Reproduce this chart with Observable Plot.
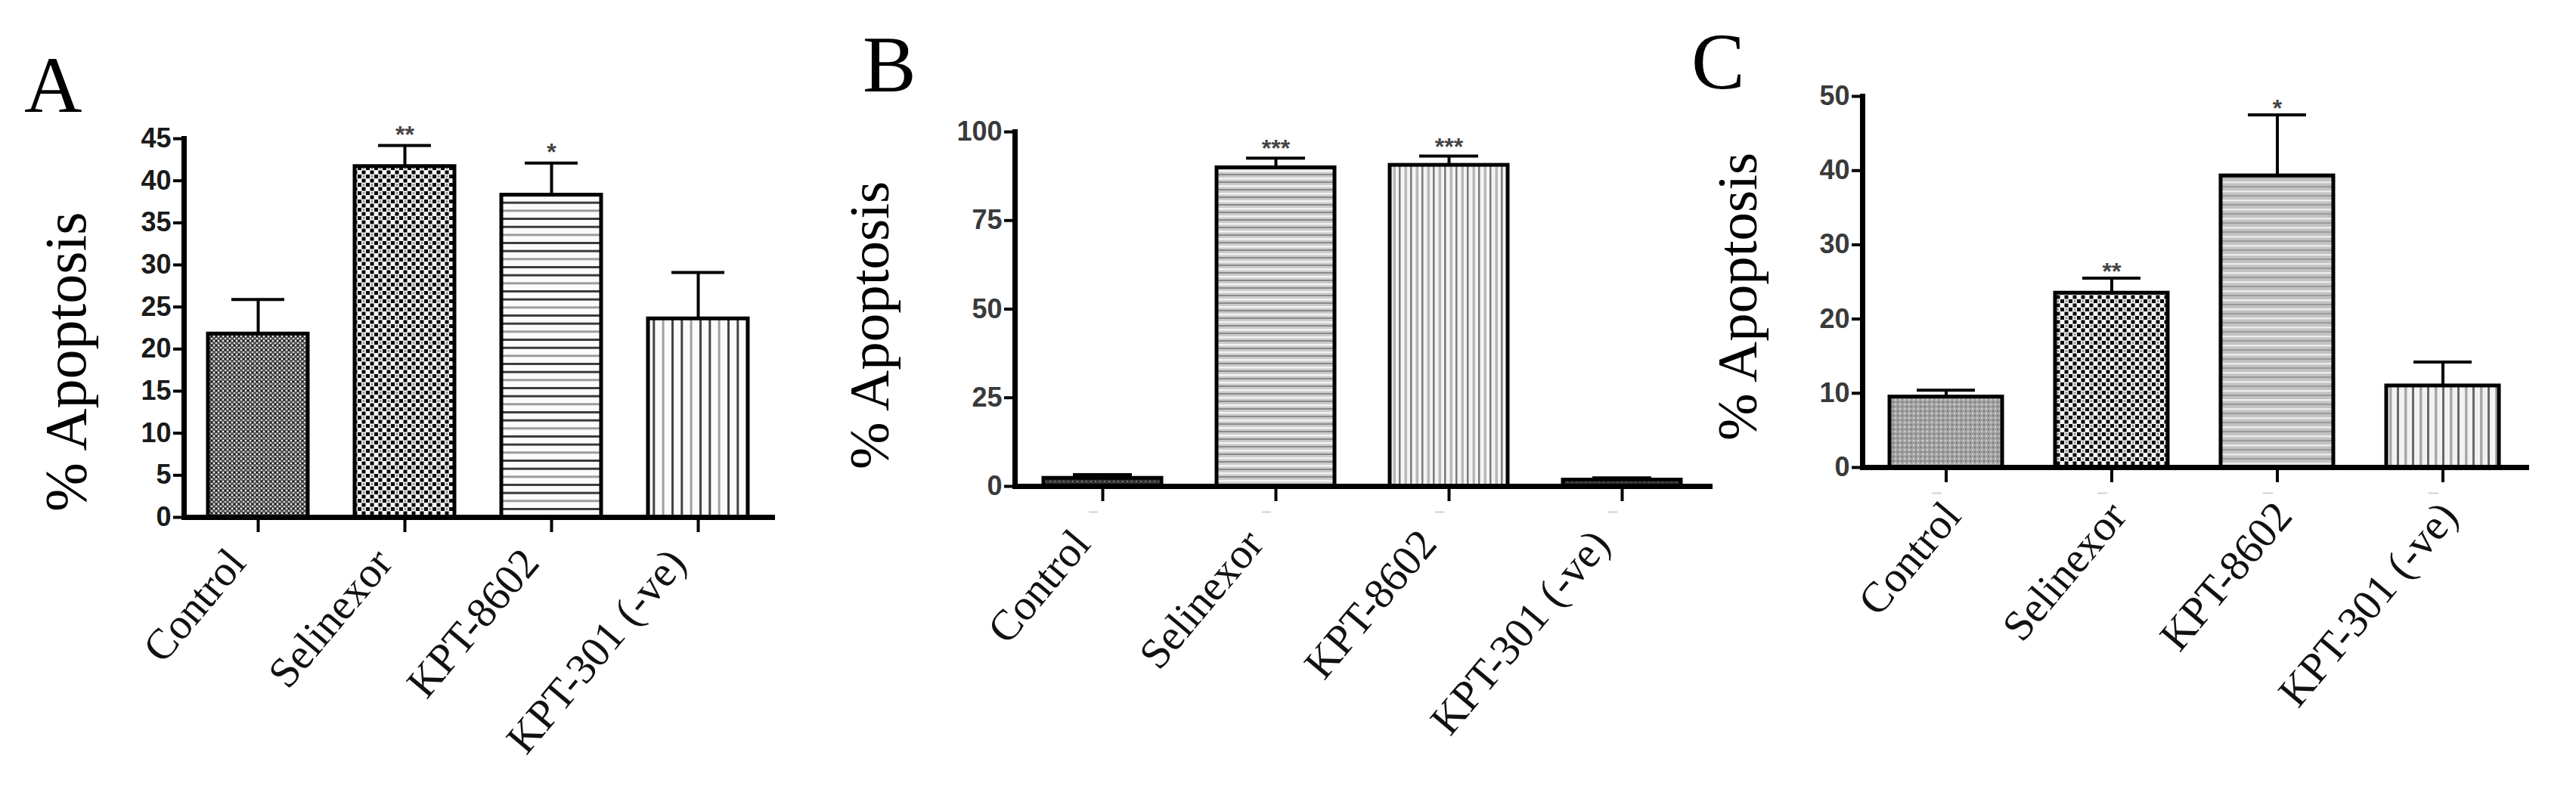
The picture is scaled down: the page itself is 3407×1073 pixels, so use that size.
<!DOCTYPE html>
<html>
<head>
<meta charset="utf-8">
<script src="https://cdn.jsdelivr.net/npm/d3@7"></script>
<script src="https://cdn.jsdelivr.net/npm/@observablehq/plot@0.6"></script>
<style>
  html, body { margin: 0; padding: 0; background: #fff; }
  #fig { position: relative; width: 3407px; height: 1073px; overflow: hidden; background: #fff; }
  .panel { position: absolute; top: 0; }
  .panel svg { max-width: none; display: block; }
  .letter { position: absolute; font-family: "Liberation Serif", "Times New Roman", serif; font-size: 106px; line-height: 1; color: #000; }
  .ylab { position: absolute; font-family: "Liberation Serif", "Times New Roman", serif; white-space: nowrap; line-height: 1; transform-origin: 0 0; transform: rotate(-90deg); color: #000; }
</style>
</head>
<body>
<div id="fig"></div>
<script>
// ---------- data ----------
const categories = ["Control", "Selinexor", "KPT-8602", "KPT-301 (-ve)"];

const apoptosisA = [21.8, 41.7, 38.3, 23.6];
const errorA     = [4.1, 2.5, 3.8, 5.5];
const starsA     = ["", "**", "*", ""];
const ticksA     = [0, 5, 10, 15, 20, 25, 30, 35, 40, 45];

const apoptosisB = [2.3, 89.9, 90.6, 1.8];
const errorB     = [1.0, 2.7, 2.6, 0.6];
const starsB     = ["", "***", "***", ""];
const ticksB     = [0, 25, 50, 75, 100];

const apoptosisC = [9.5, 23.5, 39.3, 11.0];
const errorC     = [0.9, 2.0, 8.2, 3.2];
const starsC     = ["", "**", "*", ""];
const ticksC     = [0, 10, 20, 30, 40, 50];

const yLabel = "% Apoptosis";

// ---------- patterns (style) ----------
function patternDefs(p) {
  return `
  <pattern id="${p}-fineDark" width="6" height="6" patternUnits="userSpaceOnUse">
    <rect width="6" height="6" fill="#5c5c5c"/>
    <rect x="0" y="0" width="2" height="2" fill="#f2f2f2"/>
    <rect x="3" y="3" width="2" height="2" fill="#d8d8d8"/>
    <rect x="3" y="0" width="2" height="2" fill="#1a1a1a"/>
  </pattern>
  <pattern id="${p}-fineVeryDark" width="6" height="6" patternUnits="userSpaceOnUse">
    <rect width="6" height="6" fill="#333"/>
    <rect x="0" y="0" width="2" height="2" fill="#777"/>
  </pattern>
  <pattern id="${p}-fineGray" width="6" height="6" patternUnits="userSpaceOnUse">
    <rect width="6" height="6" fill="#a2a2a2"/>
    <rect x="0" y="0" width="2" height="2" fill="#d6d6d6"/>
    <rect x="3" y="3" width="2" height="2" fill="#7a7a7a"/>
  </pattern>
  <pattern id="${p}-coarse" width="11" height="11" patternUnits="userSpaceOnUse">
    <rect width="11" height="11" fill="#f6f6f6"/>
    <rect x="0" y="0" width="5" height="5" fill="#0a0a0a"/>
    <rect x="5.5" y="5.5" width="5" height="5" fill="#0a0a0a"/>
    <rect x="6.5" y="1" width="3" height="3" fill="#9a9a9a"/>
  </pattern>
  <pattern id="${p}-hLines" width="12" height="32" patternUnits="userSpaceOnUse">
    <rect width="12" height="32" fill="#fbfbfb"/>
    <rect y="0" width="12" height="3" fill="#3c3c3c"/>
    <rect y="10.7" width="12" height="3" fill="#3c3c3c"/>
    <rect y="21.3" width="12" height="3" fill="#9c9c9c"/>
  </pattern>
  <pattern id="${p}-vLines" width="37" height="12" patternUnits="userSpaceOnUse">
    <rect width="37" height="12" fill="#fbfbfb"/>
    <rect x="0" width="3" height="12" fill="#454545"/>
    <rect x="12.3" width="3" height="12" fill="#454545"/>
    <rect x="24.6" width="3" height="12" fill="#a0a0a0"/>
  </pattern>
  <pattern id="${p}-hLinesLight" width="12" height="10" patternUnits="userSpaceOnUse">
    <rect width="12" height="10" fill="#cbcbcb"/>
    <rect y="0" width="12" height="2" fill="#8a8a8a"/>
    <rect y="5" width="12" height="2.5" fill="#f2f2f2"/>
  </pattern>
  <pattern id="${p}-vLinesLight" width="15" height="12" patternUnits="userSpaceOnUse">
    <rect width="15" height="12" fill="#f4f4f4"/>
    <rect x="0" width="2.5" height="12" fill="#7a7a7a"/>
    <rect x="7.5" width="3.5" height="12" fill="#b8b8b8"/>
  </pattern>
  <pattern id="${p}-hLinesGray" width="12" height="12" patternUnits="userSpaceOnUse">
    <rect width="12" height="12" fill="#c2c2c2"/>
    <rect y="0" width="12" height="2.5" fill="#eaeaea"/>
    <rect y="6" width="12" height="2" fill="#9a9a9a"/>
  </pattern>
  <pattern id="${p}-vLinesGray" width="20" height="12" patternUnits="userSpaceOnUse">
    <rect width="20" height="12" fill="#f2f2f2"/>
    <rect x="0" width="3" height="12" fill="#6a6a6a"/>
    <rect x="10" width="3.5" height="12" fill="#a8a8a8"/>
  </pattern>`;
}

// ---------- panel builder ----------
function makePanel(cfg) {
  const rows = categories.map((c, i) => ({
    cat: c,
    v: cfg.values[i],
    top: cfg.values[i] + cfg.errors[i],
    star: cfg.stars[i],
    fill: `url(#${cfg.id}-${cfg.patterns[i]})`
  }));
  const marks = [
    Plot.barY(rows, {x: "cat", y: "v", fill: "fill", stroke: "#000", strokeWidth: 5}),
    Plot.ruleX(rows, {x: "cat", y1: "v", y2: "top", stroke: "#000", strokeWidth: 4}),
    Plot.tickY(rows, {x: "cat", y: "top", stroke: "#000", strokeWidth: 4, insetLeft: cfg.capInset, insetRight: cfg.capInset}),
    Plot.text(rows, {x: "cat", y: "top", text: "star", dy: cfg.starDy, fontSize: 32, fontWeight: "bold", fill: "#444", fontFamily: "Liberation Sans, Arial, sans-serif"}),
    Plot.frame({anchor: "left", stroke: "#000", strokeWidth: 7}),
    Plot.frame({anchor: "bottom", stroke: "#000", strokeWidth: 7}),
    Plot.axisY({ticks: cfg.ticks, tickSize: 14, tickPadding: 3, strokeWidth: 4, stroke: "#000",
      fill: cfg.tickColor, fontSize: 36, fontWeight: "bold", fontFamily: "Liberation Sans, Arial, sans-serif",
      label: null, tickFormat: d => String(d)}),
    // x ticks (marks only)
    Plot.axisX({tickSize: 20, strokeWidth: 4, stroke: "#000", fill: "none", label: null}),
    // x tick labels (rotated)
    Plot.axisX({tickSize: 0, tickPadding: cfg.xPad, dx: cfg.xDx, stroke: "none", fill: "#111",
      tickRotate: -50, fontSize: 57, fontFamily: "Liberation Serif, Times New Roman, serif", label: null})
  ];
  if (cfg.dashes) {
    marks.push(Plot.tickY(rows, {x: "cat", y: () => 0, dy: 34, dx: -12, stroke: "#d0d0d0", strokeWidth: 2,
      insetLeft: cfg.dashInset, insetRight: cfg.dashInset}));
  }
  const svg = Plot.plot({
    width: cfg.width,
    height: 1073,
    marginLeft: cfg.marginLeft,
    marginRight: cfg.marginRight,
    marginTop: cfg.marginTop,
    marginBottom: cfg.marginBottom,
    style: {background: "transparent", overflow: "visible"},
    x: {domain: categories, paddingInner: 0.32, paddingOuter: 0.16, align: 0.5},
    y: {domain: [0, cfg.max]},
    color: {type: "identity"},
    marks
  });
  const defs = document.createElementNS("http://www.w3.org/2000/svg", "defs");
  defs.innerHTML = patternDefs(cfg.id);
  svg.insertBefore(defs, svg.firstChild);

  const holder = document.createElement("div");
  holder.className = "panel";
  holder.style.left = cfg.left + "px";
  holder.style.width = cfg.width + "px";
  holder.appendChild(svg);
  document.getElementById("fig").appendChild(holder);

  const letter = document.createElement("div");
  letter.className = "letter";
  letter.textContent = cfg.letter;
  letter.style.left = cfg.letterX + "px";
  letter.style.top = cfg.letterY + "px";
  document.getElementById("fig").appendChild(letter);

  const yl = document.createElement("div");
  yl.className = "ylab";
  yl.textContent = yLabel;
  yl.style.fontSize = cfg.yLabSize + "px";
  yl.style.left = cfg.yLabX + "px";
  yl.style.top = cfg.yLabY + "px";
  document.getElementById("fig").appendChild(yl);
}

makePanel({
  id: "pa", letter: "A", left: 0, width: 1100,
  marginLeft: 243, marginRight: 79, marginTop: 183, marginBottom: 389,
  max: 45, ticks: ticksA, values: apoptosisA, errors: errorA, stars: starsA,
  patterns: ["fineDark", "coarse", "hLines", "vLines"],
  capInset: 31, starDy: -14, tickColor: "#1a1a1a", xPad: 50, xDx: -28, dashes: false,
  letterX: 32, letterY: 60, yLabSize: 78, yLabX: 48, yLabY: 677
});

makePanel({
  id: "pb", letter: "B", left: 1100, width: 1170,
  marginLeft: 242, marginRight: 9, marginTop: 174, marginBottom: 430,
  max: 100, ticks: ticksB, values: apoptosisB, errors: errorB, stars: starsB,
  patterns: ["fineVeryDark", "hLinesLight", "vLinesLight", "fineVeryDark"],
  capInset: 39, starDy: -12, tickColor: "#3a3a3a", xPad: 66, xDx: -28, dashes: true, dashInset: 72,
  letterX: 1141, letterY: 33, yLabSize: 75, yLabX: 1112, yLabY: 621
});

makePanel({
  id: "pc", letter: "C", left: 2230, width: 1177,
  marginLeft: 233, marginRight: 66, marginTop: 127, marginBottom: 455,
  max: 50, ticks: ticksC, values: apoptosisC, errors: errorC, stars: starsC,
  patterns: ["fineGray", "coarse", "hLinesGray", "vLinesGray"],
  capInset: 36, starDy: -8, tickColor: "#3a3a3a", xPad: 54, xDx: 8, dashes: true, dashInset: 68,
  letterX: 2237, letterY: 29, yLabSize: 75, yLabX: 2260, yLabY: 583
});
</script>
</body>
</html>
